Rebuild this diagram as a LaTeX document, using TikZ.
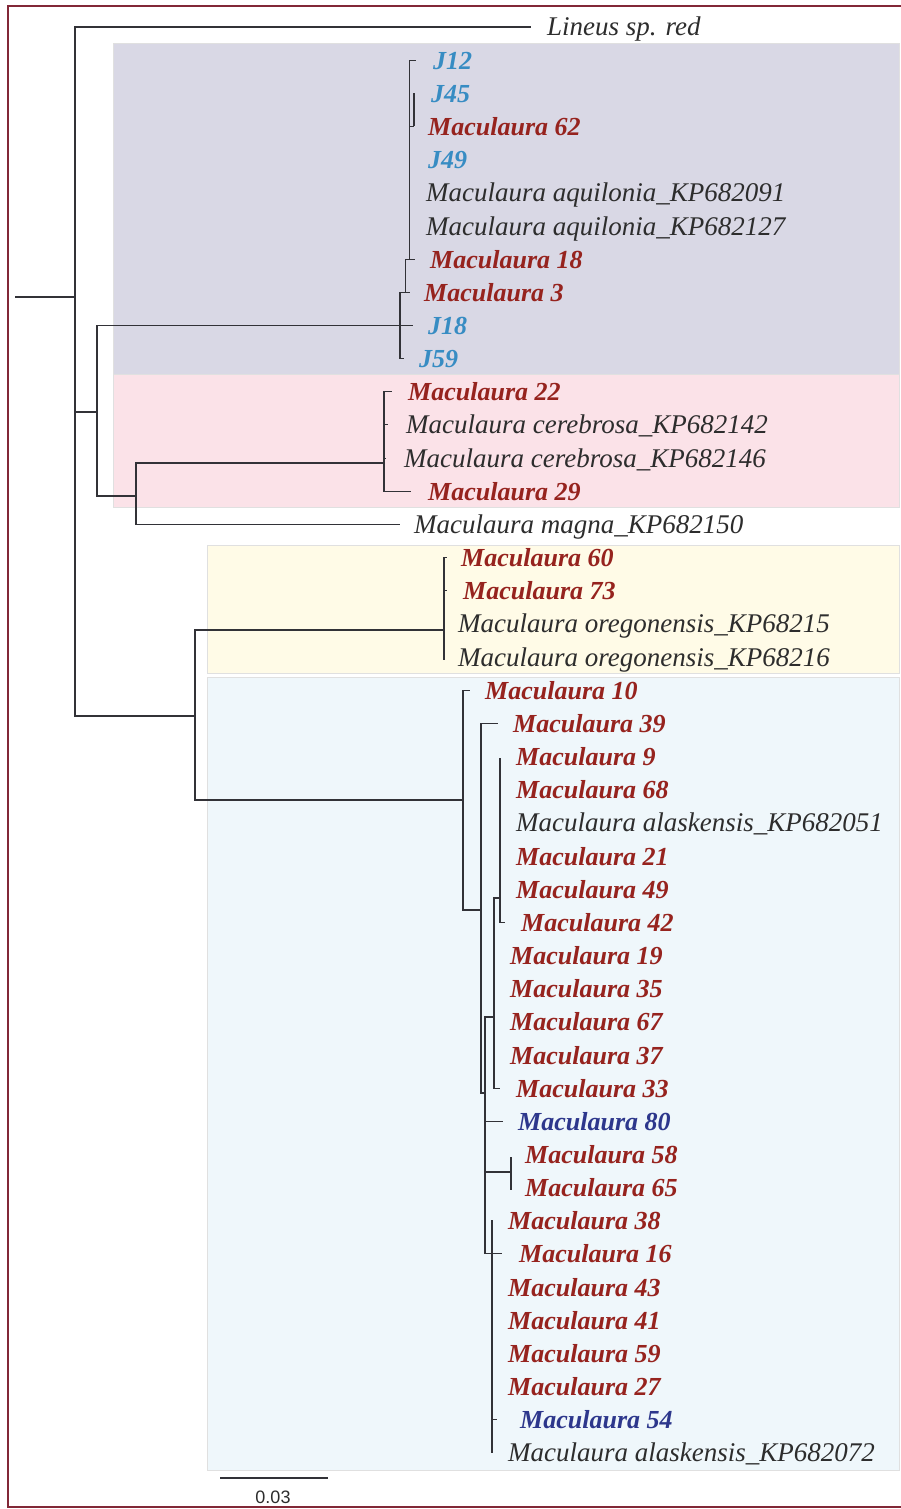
\documentclass[tikz,border=0pt]{standalone}
\usepackage{fontspec}
\setmainfont{Liberation Serif}
\newfontfamily\sbfont{Liberation Sans}
\definecolor{frame}{RGB}{130,40,55}
\definecolor{boxA}{RGB}{217,216,229}
\definecolor{boxB}{RGB}{251,226,232}
\definecolor{boxC}{RGB}{255,251,231}
\definecolor{boxD}{RGB}{239,247,251}
\definecolor{cred}{RGB}{150,35,30}
\definecolor{cblue}{RGB}{55,140,195}
\definecolor{cnavy}{RGB}{45,55,140}
\definecolor{cblk}{RGB}{45,45,45}
\definecolor{cbranch}{RGB}{50,50,55}
\tikzset{
  branch/.style={draw=cbranch, line width=1.1pt},
  lab/.style={anchor=base west, inner sep=0pt, yshift=-9pt, font=\fontsize{27}{29}\selectfont\itshape},
  lblk/.style={lab, text=cblk},
  lred/.style={lab, text=cred, font=\fontsize{26}{28}\selectfont\bfseries\itshape},
  lblue/.style={lab, text=cblue, font=\fontsize{26}{28}\selectfont\bfseries\itshape},
  lnavy/.style={lab, text=cnavy, font=\fontsize{26}{28}\selectfont\bfseries\itshape},
  cladebox/.style={draw=black!12, line width=1pt},
}
\begin{document}
\begin{tikzpicture}[x=1pt,y=-1pt]
\useasboundingbox (0,0) rectangle (901,1509);
\fill[white] (0,0) rectangle (901,1509);
% clade boxes
\path[cladebox, fill=boxA] (113,44) rectangle (899,374);
\path[cladebox, fill=boxB] (113,374) rectangle (899,507);
\path[cladebox, fill=boxC] (207,545) rectangle (899,673);
\path[cladebox, fill=boxD] (207,677) rectangle (899,1470);
% frame
\draw[frame, line width=1.6pt] (8,6) rectangle (904,1507);

% labels
\node[lblk] (Lin) at (547,27.0) {Lineus sp. red};
\node[lblue] (J12) at (433,60.2) {J12};
\node[lblue] (J45) at (431,93.3) {J45};
\node[lred] (M62) at (428,126.5) {Maculaura 62};
\node[lblue] (J49) at (428,159.6) {J49};
\node[lblk] (Aq1) at (426,192.8) {Maculaura aquilonia\_KP682091};
\node[lblk] (Aq2) at (426,226.0) {Maculaura aquilonia\_KP682127};
\node[lred] (M18) at (430,259.1) {Maculaura 18};
\node[lred] (M3) at (424,292.3) {Maculaura 3};
\node[lblue] (J18) at (428,325.4) {J18};
\node[lblue] (J59) at (419,358.6) {J59};
\node[lred] (M22) at (408,391.8) {Maculaura 22};
\node[lblk] (Ce1) at (406,424.9) {Maculaura cerebrosa\_KP682142};
\node[lblk] (Ce2) at (404,458.1) {Maculaura cerebrosa\_KP682146};
\node[lred] (M29) at (428,491.2) {Maculaura 29};
\node[lblk] (Mag) at (414,524.4) {Maculaura magna\_KP682150};
\node[lred] (M60) at (461,557.6) {Maculaura 60};
\node[lred] (M73) at (463,590.7) {Maculaura 73};
\node[lblk] (Or1) at (458,623.9) {Maculaura oregonensis\_KP68215};
\node[lblk] (Or2) at (458,657.0) {Maculaura oregonensis\_KP68216};
\node[lred] (M10) at (485,690.2) {Maculaura 10};
\node[lred] (M39) at (513,723.4) {Maculaura 39};
\node[lred] (M9) at (516,756.5) {Maculaura 9};
\node[lred] (M68) at (516,789.7) {Maculaura 68};
\node[lblk] (Al1) at (516,822.8) {Maculaura alaskensis\_KP682051};
\node[lred] (M21) at (516,856.0) {Maculaura 21};
\node[lred] (M49) at (516,889.2) {Maculaura 49};
\node[lred] (M42) at (521,922.3) {Maculaura 42};
\node[lred] (M19) at (510,955.5) {Maculaura 19};
\node[lred] (M35) at (510,988.6) {Maculaura 35};
\node[lred] (M67) at (510,1021.8) {Maculaura 67};
\node[lred] (M37) at (510,1055.0) {Maculaura 37};
\node[lred] (M33) at (516,1088.1) {Maculaura 33};
\node[lnavy] (M80) at (518,1121.3) {Maculaura 80};
\node[lred] (M58) at (525,1154.4) {Maculaura 58};
\node[lred] (M65) at (525,1187.6) {Maculaura 65};
\node[lred] (M38) at (508,1220.8) {Maculaura 38};
\node[lred] (M16) at (519,1253.9) {Maculaura 16};
\node[lred] (M43) at (508,1287.1) {Maculaura 43};
\node[lred] (M41) at (508,1320.2) {Maculaura 41};
\node[lred] (M59) at (508,1353.4) {Maculaura 59};
\node[lred] (M27) at (508,1386.6) {Maculaura 27};
\node[lnavy] (M54) at (520,1419.7) {Maculaura 54};
\node[lblk] (Al2) at (508,1452.9) {Maculaura alaskensis\_KP682072};

% internal nodes and branch ends
\coordinate (root) at (15,297);
\coordinate (n0) at (75,297);
\coordinate (tLin) at (531,27);
\coordinate (nA) at (97,412);
\coordinate (nBot) at (195,716);
\coordinate (nAq) at (400,325.4);
\coordinate (tJ59) at (404,358.6);
\coordinate (tJ18) at (413,325.4);
\coordinate (nC) at (405.6,292.3);
\coordinate (tM3) at (410,292.3);
\coordinate (nD) at (409.5,259.1);
\coordinate (tM18) at (415,259.1);
\coordinate (tJ12) at (416,60.2);
\coordinate (nE) at (414,126.5);
\coordinate (tJ45) at (414,93.3);
\coordinate (nF) at (136,496);
\coordinate (nG) at (384,463);
\coordinate (tM22) at (392,391.8);
\coordinate (tC1) at (388,424.9);
\coordinate (tC2) at (386,458.1);
\coordinate (tM29) at (411,491.2);
\coordinate (tMag) at (400,524.4);
\coordinate (nOre) at (444,630);
\coordinate (tM60) at (447,557.6);
\coordinate (tM73) at (447,590.7);
\coordinate (tO2) at (444,660);
\coordinate (nN1) at (463,800);
\coordinate (tM10) at (470,690.2);
\coordinate (nN2) at (481,910);
\coordinate (tM39) at (498,723.4);
\coordinate (nN4) at (485,1093);
\coordinate (nN3) at (494,1017);
\coordinate (nN5) at (500,898);
\coordinate (tM9) at (500,758);
\coordinate (tM42) at (505,922.3);
\coordinate (tM33) at (500,1088.1);
\coordinate (tM80) at (503,1121.3);
\coordinate (nM58) at (511,1172);
\coordinate (tM58) at (511,1157);
\coordinate (tM65) at (511,1190);
\coordinate (nN6) at (492,1253.9);
\coordinate (tM16) at (502,1253.9);
\coordinate (tM38) at (492,1220);
\coordinate (tM54) at (497,1419.7);
\coordinate (tAl2) at (492,1453);

% branches
\draw[branch] (root) -- (n0);
\draw[branch] (n0) |- (tLin);
\draw[branch] (n0) |- (nBot);
\draw[branch] (n0) |- (nA);
\draw[branch] (nA) |- (nAq) -- (tJ18);
\draw[branch] (nAq) |- (tJ59);
\draw[branch] (nAq) |- (nC) -- (tM3);
\draw[branch] (nC) |- (tM18);
\draw[branch] (nD) |- (tJ12);
\draw[branch] (nD) |- (nE);
\draw[branch] (nE) |- (tJ45);
\draw[branch] (nA) |- (nF);
\draw[branch] (nF) |- (nG);
\draw[branch] (nF) |- (tMag);
\draw[branch] (nG) |- (tM22);
\draw[branch] (nG) |- (tC1);
\draw[branch] (nG) |- (tC2);
\draw[branch] (nG) |- (tM29);
\draw[branch] (nBot) |- (nOre);
\draw[branch] (nBot) |- (nN1);
\draw[branch] (nOre) |- (tM60);
\draw[branch] (nOre) |- (tM73);
\draw[branch] (nOre) |- (tO2);
\draw[branch] (nN1) |- (tM10);
\draw[branch] (nN1) |- (nN2);
\draw[branch] (nN2) |- (tM39);
\draw[branch] (nN2) |- (nN4);
\draw[branch] (nN4) |- (nN3);
\draw[branch] (nN3) |- (nN5);
\draw[branch] (nN3) |- (tM33);
\draw[branch] (nN5) |- (tM9);
\draw[branch] (nN5) |- (tM42);
\draw[branch] (nN4) |- (tM80);
\draw[branch] (nN4) |- (nM58);
\draw[branch] (nM58) |- (tM58);
\draw[branch] (nM58) |- (tM65);
\draw[branch] (nN4) |- (nN6) -- (tM16);
\draw[branch] (nN6) |- (tM38);
\draw[branch] (nN6) |- (tM54);
\draw[branch] (nN6) |- (tAl2);

% scale bar
\coordinate (sb1) at (220,1478);
\coordinate (sb2) at (328,1478);
\draw[branch] (sb1) -- (sb2);
\node[anchor=north, inner sep=0pt, text=cblk, font=\fontsize{18}{20}\selectfont\sbfont] (sbl) at (273,1491) {0.03};
\end{tikzpicture}
\end{document}
